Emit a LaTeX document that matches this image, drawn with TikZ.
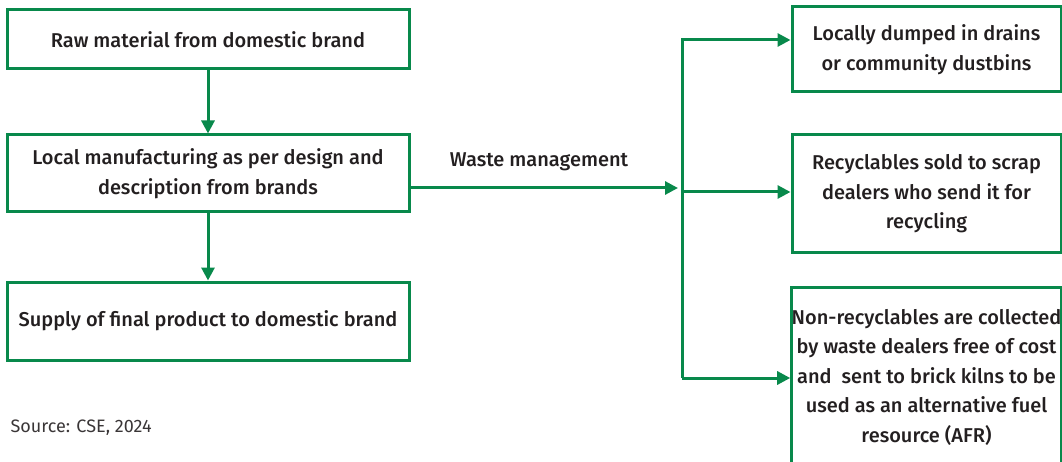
\documentclass[tikz,border=0pt]{standalone}
\usepackage{fontspec}
\setmainfont{Fira Sans}[BoldFont={Fira Sans Medium}]
\usepackage{xcolor}
\usepackage{tikz}
\usetikzlibrary{calc,arrows.meta,positioning}
\definecolor{green}{HTML}{08894B}
\definecolor{text}{HTML}{231F20}
\definecolor{muted}{HTML}{3A3637}
\tikzset{
  box/.style={draw=green, line width=3pt, text=text, font=\fontsize{20}{29.5}\selectfont\bfseries, align=center, inner sep=0pt},
  flow/.style={draw=green, line width=3pt, -{Triangle[length=13pt,width=13pt]}},
  lab/.style={text=text, font=\fontsize{20}{29.5}\selectfont\bfseries},
  src/.style={text=muted, font=\fontsize{18}{22}\selectfont},
}
\begin{document}
\begin{tikzpicture}[x=1pt,y=-1pt]
  \useasboundingbox (0,0) rectangle (1062,462);

  % chain on the left
  \node[box, minimum width=402pt, minimum height=59pt] (raw) at (208,39.5) {Raw material from domestic brand};
  \node[box, minimum width=402pt, minimum height=77pt] (make) at (208,173.5) {Local manufacturing as per design and\\description from brands};
  \node[box, minimum width=402pt, minimum height=78pt] (supply) at (208,321) {Supply of final product to domestic brand};

  \draw[flow] (raw) -- (make);
  \draw[flow] (make) -- (supply);

  % waste branches
  \node[box, minimum width=269pt, minimum height=85pt] (dump) at (926.5,49.5) {Locally dumped in drains\\or community dustbins};
  \node[box, minimum width=269pt, minimum height=118pt] (recyc) at (926.5,194) {Recyclables sold to scrap\\dealers who send it for\\recycling};
  \node[box, minimum width=269pt, minimum height=180pt] (nonrec) at (926.5,377) {Non-recyclables are collected\\by waste dealers free of cost\\and~ sent to brick kilns to be\\used as an alternative fuel\\resource (AFR)};

  \coordinate (wm) at (678,188);
  \coordinate (bustop) at (682,40);
  \coordinate (busmid) at (684,192);
  \coordinate (busbot) at (682,378);

  \draw[flow] (make.east |- wm) -- (wm);
  \node[lab] (wmlab) at (539,162) {Waste management};

  \draw[flow] (busbot) -- (bustop) -- (bustop -| dump.west);
  \draw[flow] (busmid) -- (busmid -| recyc.west);
  \draw[flow] (busbot) -- (busbot -| nonrec.west);

  \node[src, anchor=west] (source) at (7,428) {Source: CSE, 2024};
\end{tikzpicture}
\end{document}
